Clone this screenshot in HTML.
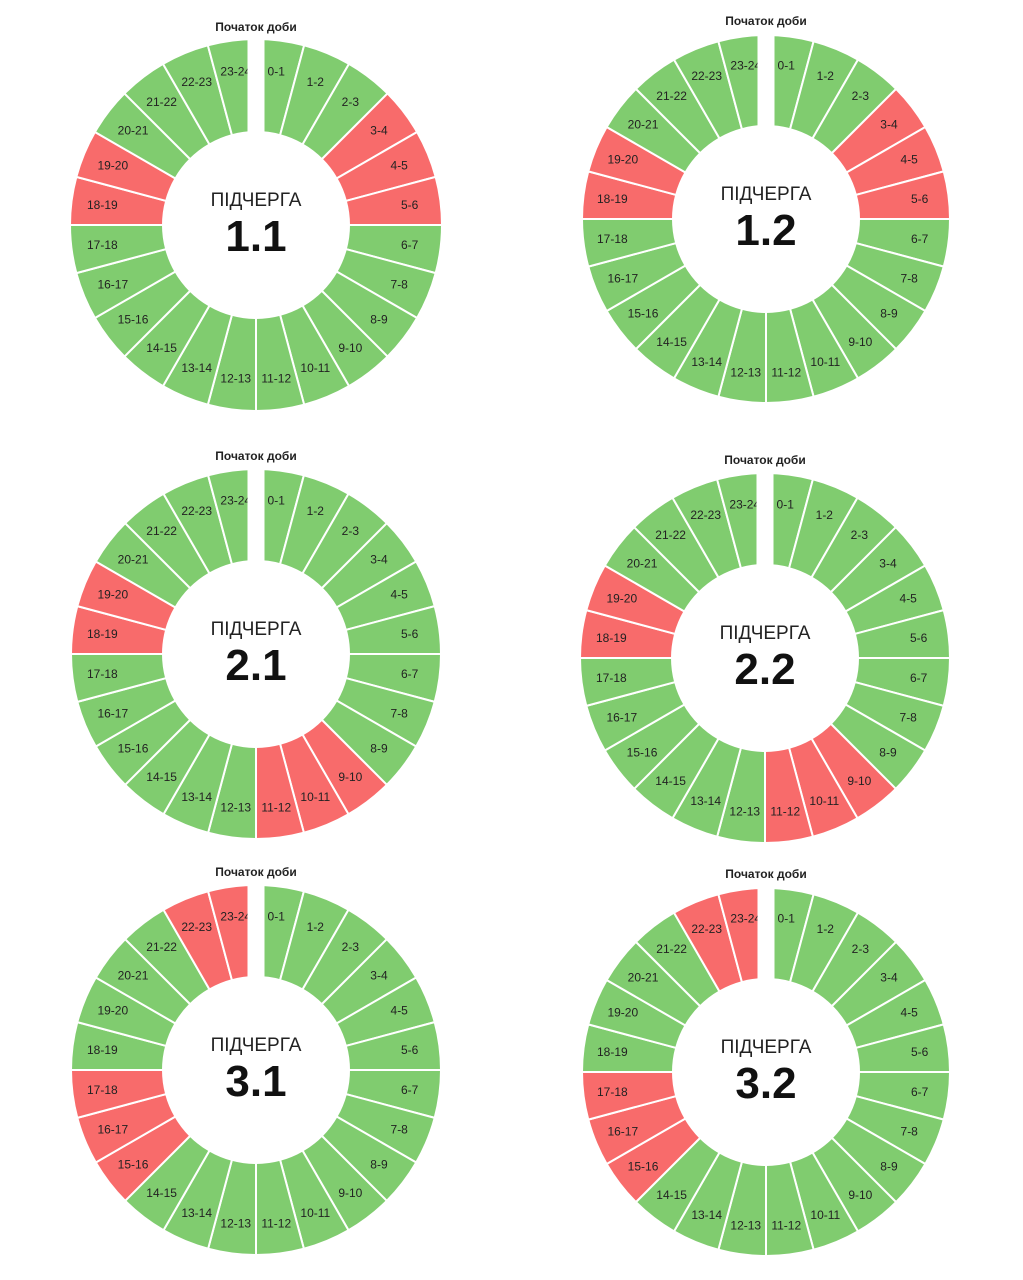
<!DOCTYPE html>
<html><head><meta charset="utf-8"><style>
html,body{margin:0;padding:0;background:#fff;}
svg{display:block;}
</style></head><body>
<svg id="chart" width="1023" height="1280" viewBox="0 0 1023 1280" xmlns="http://www.w3.org/2000/svg" font-family="'Liberation Sans', sans-serif"></svg>
<script>
// data
const queueNames = ["1.1","1.2","2.1","2.2","3.1","3.2"];
const hours = ["0-1","1-2","2-3","3-4","4-5","5-6","6-7","7-8","8-9","9-10","10-11","11-12","12-13","13-14","14-15","15-16","16-17","17-18","18-19","19-20","20-21","21-22","22-23","23-24"];
const outage11 = [3,4,5,18,19];
const outage12 = [3,4,5,18,19];
const outage21 = [9,10,11,18,19];
const outage22 = [9,10,11,18,19];
const outage31 = [15,16,17,22,23];
const outage32 = [15,16,17,22,23];
const outages = [outage11,outage12,outage21,outage22,outage31,outage32];

const layout = [[256,225,186],[766,219,184],[256,654,185],[765,658,185],[256,1070,185],[766,1072,184]];
const NS="http://www.w3.org/2000/svg";
const svg=document.getElementById('chart');
function mk(tag,attrs,parent){const e=document.createElementNS(NS,tag);for(const k in attrs)e.setAttribute(k,attrs[k]);(parent||svg).appendChild(e);return e;}
function pt(cx,cy,r,deg){const a=deg*Math.PI/180;return [cx+r*Math.sin(a),cy-r*Math.cos(a)];}

queueNames.forEach((name,qi)=>{
  const [cx,cy,R]=layout[qi];
  const r0=93;
  const g=mk('g',{});
  
  
  const step=360/hours.length;
  hours.forEach((h,i)=>{
    const a0=i*step,a1=(i+1)*step;
    const p1=pt(cx,cy,R,a0),p2=pt(cx,cy,R,a1),p3=pt(cx,cy,r0,a1),p4=pt(cx,cy,r0,a0);
    const red=outages[qi].includes(i);
    const p=mk('path',{d:`M${p1[0]},${p1[1]} A${R},${R} 0 0 1 ${p2[0]},${p2[1]} L${p3[0]},${p3[1]} A${r0},${r0} 0 0 0 ${p4[0]},${p4[1]} Z`,fill:red?'#f86b6b':'#80cc6f',stroke:'#fff','stroke-width':2},g);
    
    
    const lp=pt(cx,cy,155,(a0+a1)/2);
    const t=mk('text',{x:lp[0],y:lp[1]+4,'text-anchor':'middle','font-size':12,fill:'#222'},g);
    t.textContent=h;
    
    
  });
  const gap=mk('rect',{x:cx-8.5,y:cy-R-2,width:17,height:R-r0+4,fill:'#fff'},g);
  
  
  const st=mk('text',{x:cx,y:cy-194,'text-anchor':'middle','font-size':12,'font-weight':'bold',fill:'#222'},g);
  st.textContent='Початок доби';
  
  
  const t1=mk('text',{x:cx,y:cy-19,'text-anchor':'middle','font-size':19,fill:'#222'},g);
  t1.textContent='ПІДЧЕРГА';
  
  
  const t2=mk('text',{x:cx,y:cy+26,'text-anchor':'middle','font-size':44,'font-weight':'bold',fill:'#111'},g);
  t2.textContent=name;
  
  
});
</script>
</body></html>
